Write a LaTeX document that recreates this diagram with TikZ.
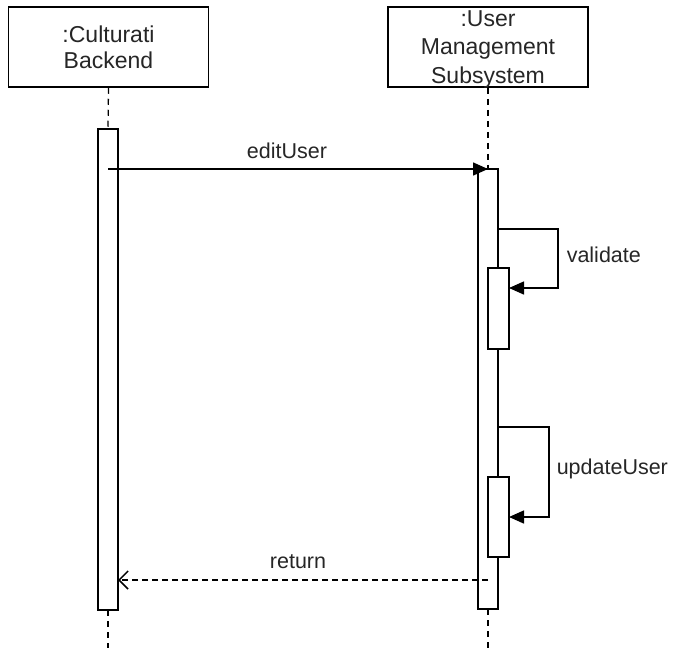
\documentclass[tikz,border=0pt]{standalone}
\usepackage{fontspec}
\setmainfont{Liberation Sans}
\usetikzlibrary{arrows.meta}
\begin{document}
\begin{tikzpicture}[x=1pt,y=-1pt,line width=1.5pt,
  objbox/.style={draw, fill=white, minimum width=200pt, minimum height=80pt, inner sep=0pt},
  objtext/.style={font=\fontsize{23}{27}\selectfont, text=black!85, inner sep=0pt, anchor=base},
  actbar/.style={draw, fill=white, inner sep=0pt, outer sep=0pt, anchor=north west},
  lifeline/.style={line width=1.3pt, dash pattern=on 6pt off 5pt},
  msg/.style={-{Triangle[length=15pt,width=13pt]}},
  reply/.style={dash pattern=on 6pt off 4pt, -{Straight Barb[length=9pt,width=18pt]}},
  lbl/.style={font=\fontsize{21.5}{25}\selectfont, text=black!85, inner sep=0pt, anchor=base},
]
\useasboundingbox (0,0) rectangle (674,648);

% object heads
\node[objbox] (cb) at (108.5,47) {};
\node[objtext] (cbt1) at (108.5,42) {:Culturati};
\node[objtext] (cbt2) at (108.5,68) {Backend};
\node[objbox] (um) at (488,47) {};
\node[objtext] (umt1) at (488,26) {:User};
\node[objtext] (umt2) at (488,54.5) {Management};
\node[objtext] (umt3) at (488,83) {Subsystem};

% activation bars
\node[actbar, minimum width=20pt, minimum height=481pt] (a1) at (98,129) {};
\node[actbar, minimum width=20pt, minimum height=440pt] (a2) at (478,169) {};
\node[actbar, minimum width=21pt, minimum height=81pt] (a3) at (488,268) {};
\node[actbar, minimum width=21pt, minimum height=80pt] (a4) at (488,477) {};

% lifelines
\coordinate (cbend) at (108,648);
\coordinate (umend) at (488,648);
\draw[lifeline] (cb.south) -- (a1.north);
\draw[lifeline] (a1.south) -- (cbend);
\draw[lifeline] (um.south) -- (a2.north);
\draw[lifeline] (a2.south) -- (umend);

% editUser call
\draw[msg] (a1 |- a2.north) -- (a2.north);
\node[lbl] (l1) at (287,158.5) {editUser};

% self calls
\coordinate (v1) at (498,229);
\draw[msg] (v1) -- ++(60,0) |- ([yshift=-20pt]a3.north east);
\node[lbl, anchor=base west] (l2) at (566,262) {validate};

\coordinate (u1) at (498,427);
\draw[msg] (u1) -- ++(51,0) |- ([yshift=-40pt]a4.north east);
\node[lbl, anchor=base west] (l3) at (556,474) {updateUser};

% return
\coordinate (r) at (0,580);
\draw[reply] (a2 |- r) -- (a1.east |- r);
\node[lbl] (l4) at (298,568) {return};
\end{tikzpicture}
\end{document}
